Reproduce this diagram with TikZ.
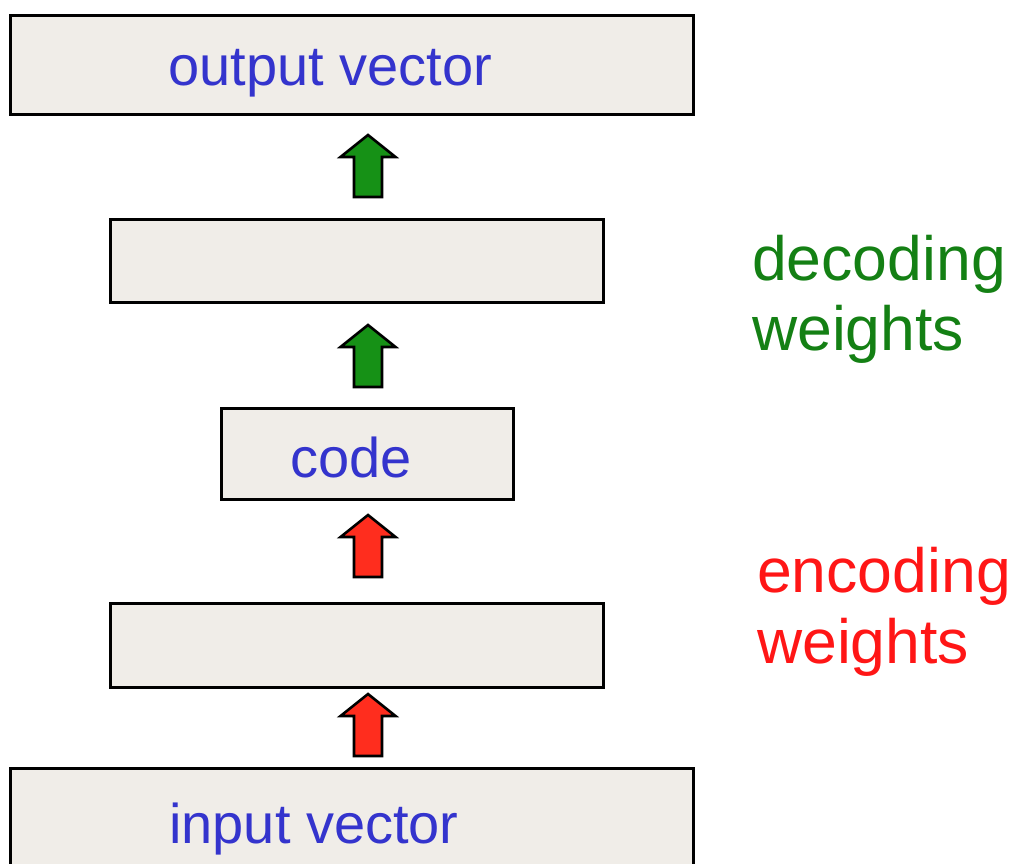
\documentclass[tikz,border=0pt]{standalone}
\usepackage{fontspec}
\setmainfont{Liberation Sans}
\definecolor{boxfill}{RGB}{240,237,232}
\definecolor{txtblue}{RGB}{52,52,205}
\definecolor{txtgreen}{RGB}{20,128,20}
\definecolor{txtred}{RGB}{255,22,22}
\definecolor{arrgreen}{RGB}{22,145,22}
\definecolor{arrred}{RGB}{255,45,30}
\tikzset{
  layer/.style={draw=black, line width=3pt, fill=boxfill, inner sep=0pt, outer sep=0pt},
  boxlabel/.style={anchor=base west, inner sep=0pt, text=txtblue, font=\fontsize{56}{60}\selectfont},
  sidelabel/.style={anchor=base west, inner sep=0pt, font=\fontsize{62.5}{70}\selectfont},
  uparrow/.pic={\draw[line width=2.6pt, line join=miter, pic actions]
     (-14,0) -- (-14,-40) -- (-27.5,-40) -- (0,-62) -- (27.5,-40) -- (14,-40) -- (14,0) -- cycle;},
  greenarrow/.style={draw=black, fill=arrgreen},
  redarrow/.style={draw=black, fill=arrred}
}
\begin{document}
\begin{tikzpicture}[x=1pt,y=-1pt]
\useasboundingbox (0,0) rectangle (1016,863);
\clip (0,0) rectangle (1016,863);
% layers
\node[layer, minimum width=683pt, minimum height=99pt] (out) at (351.5,65) {};
\node[layer, minimum width=493pt, minimum height=83pt] (dec) at (356.5,260.5) {};
\node[layer, minimum width=292pt, minimum height=91pt] (code) at (367,453.5) {};
\node[layer, minimum width=493pt, minimum height=84pt] (enc) at (356.5,645) {};
\node[layer, minimum width=683pt, minimum height=120pt] (in) at (351.5,828) {};
% labels
\node[boxlabel] (outl) at (168,85) {output vector};
\node[boxlabel] (codel) at (290,477) {code};
\node[boxlabel] (inl) at (169,843) {input vector};
\node[sidelabel, text=txtgreen] (dec1) at (752,280) {decoding};
\node[sidelabel, text=txtgreen] (dec2) at (752,350) {weights};
\node[sidelabel, text=txtred] (enc1) at (757,592) {encoding};
\node[sidelabel, text=txtred] (enc2) at (757,663) {weights};
% arrows
\pic[redarrow] at (368,756) {uparrow};
\pic[redarrow] at (368,577) {uparrow};
\pic[greenarrow] at (368,387) {uparrow};
\pic[greenarrow] at (368,197) {uparrow};
\end{tikzpicture}
\end{document}
